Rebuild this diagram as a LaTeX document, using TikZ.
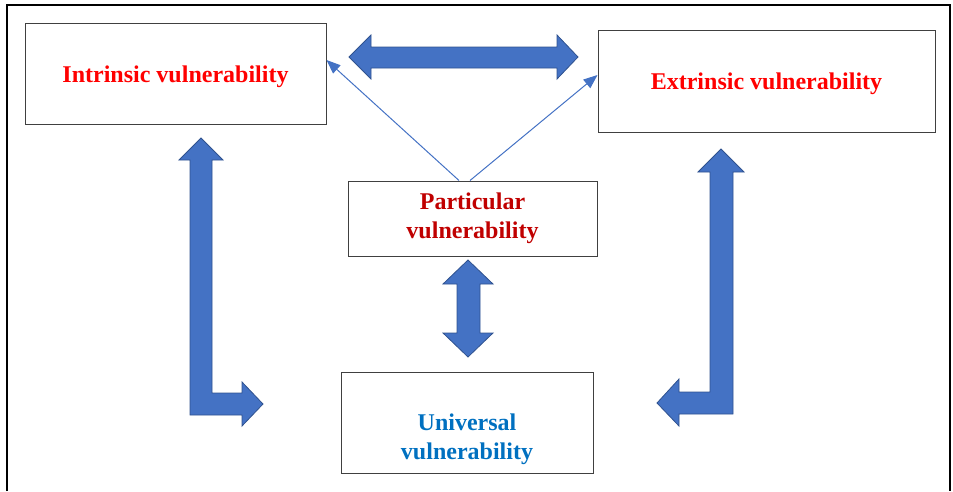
\documentclass[tikz,border=0pt]{standalone}
\usepackage{fontspec}
\setmainfont{Liberation Serif}
\usetikzlibrary{arrows.meta,positioning}
\definecolor{arrblue}{HTML}{4472C4}
\definecolor{arredge}{HTML}{2F528F}
\definecolor{boxgray}{HTML}{404040}
\definecolor{darkred}{HTML}{C00000}
\definecolor{unblue}{HTML}{0070C0}
\tikzset{
    %Define style for boxes
    vbox/.style={
      rectangle,
      draw=boxgray, line width=1pt,
      align=center,
      font=\bfseries\fontsize{24}{29}\selectfont},
    % Define style for one line labels
    oneline/.style={
      text height=22pt,
      text depth=5pt},
    % Define style for the thick block arrows
    blockarr/.style={
      fill=arrblue,
      draw=arredge,
      line width=0.8pt,
      line join=miter},
    % Define thin arrow style
    thinarr/.style={
      -{Triangle[length=14pt,width=11pt]},
      draw=arrblue,
      line width=1pt}
}
\begin{document}
\begin{tikzpicture}[x=1pt, y=-1pt]
    \useasboundingbox (0,0) rectangle (953,491);
    % outer frame
    \draw[line width=2pt] (6.5,491) -- (6.5,5) -- (950,5) -- (950,491);

    \node[vbox, oneline, minimum width=301, minimum height=101, text=red]
      (intr) at (175.5,73.5) {Intrinsic vulnerability};
    \node[vbox, oneline, minimum width=337, minimum height=102, text=red]
      (extr) at (766.5,81) {Extrinsic vulnerability};
    \node[vbox, minimum width=249, minimum height=75, text=darkred]
      (part) at (472.5,218.5) {Particular\\vulnerability};
    \node[vbox, minimum width=252, minimum height=101]
      (univ) at (467,422.5) {};
    \node[vbox, draw=none, text=unblue] (univtext)
      at ([yshift=-17pt]univ.center) {Universal\\vulnerability};

    % thin arrows from the particular box
    \draw[thinarr] ([xshift=-13.5]part.north) -- ([yshift=13.5]intr.east);
    \draw[thinarr] ([xshift=-2.5]part.north) -- ([yshift=6]extr.west);

    % block arrows
    \draw[blockarr] (349,57) -- (371,35) -- (371,47) -- (557,47) -- (557,35)
      -- (578,57) -- (557,79) -- (557,68) -- (371,68) -- (371,79) -- cycle;
    \draw[blockarr] (468,260) -- (493,284) -- (480,284) -- (480,333)
      -- (493,333) -- (468,357) -- (443,333) -- (457,333) -- (457,284)
      -- (443,284) -- cycle;
    \draw[blockarr] (201,138) -- (223,160) -- (212,160) -- (212,393)
      -- (242,393) -- (242,382) -- (263,404) -- (242,426) -- (242,415)
      -- (190,415) -- (190,160) -- (179,160) -- cycle;
    \draw[blockarr] (721,149) -- (744,172) -- (733,172) -- (733,414)
      -- (679,414) -- (679,426) -- (657,403) -- (679,379) -- (679,392)
      -- (710,392) -- (710,172) -- (698,172) -- cycle;
\end{tikzpicture}
\end{document}
